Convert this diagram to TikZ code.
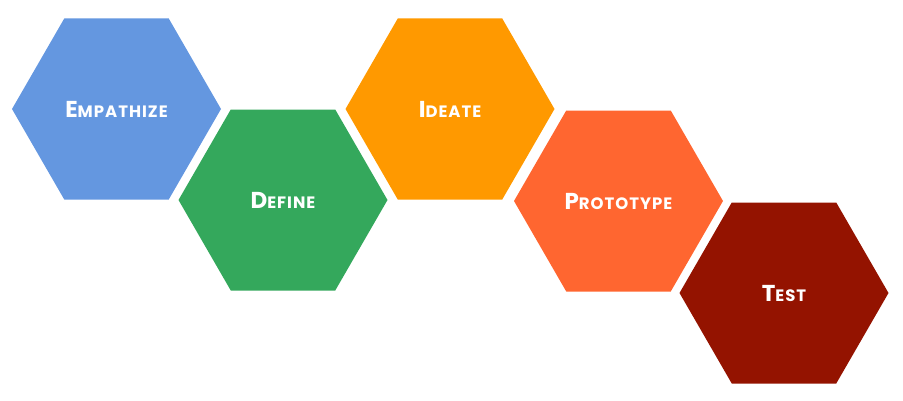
\documentclass[tikz,border=0pt]{standalone}
\usepackage{fontspec}
\setmainfont{Poppins}
\usetikzlibrary{shapes.geometric}
\definecolor{cEmp}{HTML}{6497E0}
\definecolor{cDef}{HTML}{34A85C}
\definecolor{cIde}{HTML}{FF9900}
\definecolor{cPro}{HTML}{FF6630}
\definecolor{cTes}{HTML}{941300}
\newcommand{\sclab}[2]{\bfseries\addfontfeatures{LetterSpace=6}{\fontsize{23}{23}\selectfont #1}{\fontsize{16.5}{16.5}\selectfont #2}}
\tikzset{
  hexa/.style={regular polygon, regular polygon sides=6, minimum size=209pt,
    inner sep=0pt, outer sep=0pt, draw=none, text=white, fill=#1},
}
\begin{document}
\begin{tikzpicture}[x=1pt,y=1pt]
\useasboundingbox (0,0) rectangle (903,400);
\node[hexa=cEmp] (emp) at (116.5,291) {\sclab{E}{MPATHIZE}};
\node[hexa=cDef] (def) at (283,200) {\sclab{D}{EFINE}};
\node[hexa=cIde] (ide) at (450,291) {\sclab{I}{DEATE}};
\node[hexa=cPro] (pro) at (618.5,199) {\sclab{P}{ROTOTYPE}};
\node[hexa=cTes] (tes) at (784,107) {\sclab{T}{EST}};
\end{tikzpicture}
\end{document}
